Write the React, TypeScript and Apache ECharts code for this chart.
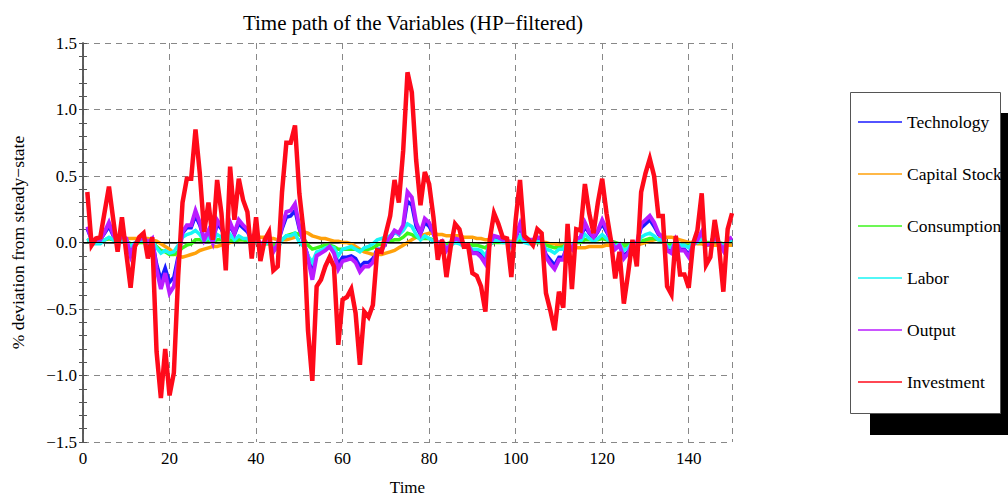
import React, { useEffect, useRef } from "react";
import * as echarts from "echarts";

const seriesNames = ["Technology", "Capital Stock", "Consumption", "Labor", "Output", "Investment"];
const seriesColors = ["#1a1aff", "#ffa10a", "#3cf51c", "#19f5f5", "#b91cff", "#ff0a1a"];
const xTicks = [0, 20, 40, 60, 80, 100, 120, 140];
const yTicks = [-1.5, -1.0, -0.5, 0.0, 0.5, 1.0, 1.5];

const technology = [
  0.10, 0.02, 0.01, 0.02, 0.07, 0.12, 0.05, 0.00, 0.04, 0.02,
  -0.08, -0.01, 0.02, 0.03, 0.00, 0.02, -0.16, -0.28, -0.19, -0.30,
  -0.26, -0.10, 0.07, 0.11, 0.11, 0.20, 0.13, 0.02, 0.08, 0.00,
  0.14, 0.10, 0.02, 0.13, 0.06, 0.14, 0.11, 0.08, 0.01, 0.03,
  -0.01, 0.00, 0.01, -0.06, -0.01, 0.10, 0.19, 0.20, 0.24, 0.10,
  0.00, -0.10, -0.23, -0.08, -0.07, -0.05, -0.03, -0.07, -0.16, -0.11,
  -0.11, -0.10, -0.12, -0.18, -0.15, -0.15, -0.12, -0.05, -0.05, 0.00,
  0.03, 0.08, 0.06, 0.11, 0.31, 0.28, 0.12, 0.06, 0.15, 0.12,
  0.06, -0.01, 0.01, -0.05, -0.01, 0.03, 0.02, -0.02, -0.02, -0.07,
  -0.07, -0.09, -0.13, -0.01, 0.04, 0.03, 0.02, 0.02, -0.02, 0.03,
  0.12, 0.03, 0.02, 0.02, 0.03, 0.02, -0.09, -0.13, -0.17, -0.11,
  -0.11, -0.01, -0.04, 0.02, 0.03, 0.12, 0.07, 0.03, 0.08, 0.14,
  0.08, 0.02, -0.04, -0.02, -0.10, -0.07, 0.00, -0.01, 0.11, 0.14,
  0.17, 0.12, 0.06, 0.03, -0.05, -0.07, 0.02, -0.05, -0.05, -0.09,
  -0.02, 0.02, 0.07, -0.02, -0.01, 0.03, 0.00, -0.05, 0.02, 0.03,
];

const capitalStock = [
  0.02, 0.02, 0.02, 0.02, 0.02, 0.03, 0.03, 0.03, 0.03, 0.03,
  0.03, 0.03, 0.03, 0.03, 0.03, 0.02, 0.01, -0.01, -0.03, -0.05,
  -0.08, -0.10, -0.11, -0.10, -0.09, -0.08, -0.06, -0.05, -0.04, -0.03,
  -0.03, -0.02, -0.01, 0.00, 0.01, 0.02, 0.02, 0.03, 0.03, 0.04,
  0.04, 0.04, 0.03, 0.03, 0.02, 0.02, 0.02, 0.03, 0.04, 0.07,
  0.08, 0.07, 0.05, 0.04, 0.03, 0.03, 0.02, 0.01, 0.01, 0.00,
  0.00, -0.01, -0.03, -0.05, -0.07, -0.08, -0.09, -0.09, -0.09, -0.08,
  -0.07, -0.06, -0.04, -0.02, 0.00, 0.02, 0.04, 0.05, 0.06, 0.07,
  0.07, 0.06, 0.06, 0.05, 0.05, 0.05, 0.05, 0.04, 0.04, 0.04,
  0.03, 0.03, 0.02, 0.02, 0.01, 0.01, 0.01, 0.01, 0.01, 0.01,
  0.01, 0.01, 0.01, 0.00, 0.00, 0.00, 0.00, -0.01, -0.01, -0.02,
  -0.02, -0.03, -0.03, -0.04, -0.04, -0.04, -0.03, -0.03, -0.03, -0.03,
  -0.02, -0.02, -0.02, -0.02, -0.03, -0.03, -0.02, -0.02, -0.01, 0.00,
  0.01, 0.02, 0.03, 0.04, 0.04, 0.04, 0.03, 0.02, 0.01, 0.00,
  0.00, -0.01, -0.01, -0.02, -0.02, -0.02, -0.02, -0.02, -0.02, -0.02,
];

const consumption = [
  0.02, 0.01, 0.01, 0.01, 0.02, 0.03, 0.02, 0.01, 0.01, 0.01,
  -0.01, -0.01, 0.00, 0.00, 0.00, 0.00, -0.03, -0.06, -0.07, -0.09,
  -0.09, -0.07, -0.04, -0.02, -0.01, 0.02, 0.02, 0.01, 0.01, 0.00,
  0.02, 0.02, 0.00, 0.02, 0.01, 0.02, 0.02, 0.01, 0.00, 0.00,
  -0.01, -0.01, -0.01, -0.02, -0.02, 0.02, 0.05, 0.06, 0.07, 0.06,
  0.03, -0.02, -0.05, -0.04, -0.03, -0.02, -0.02, -0.03, -0.05, -0.05,
  -0.05, -0.05, -0.05, -0.06, -0.05, -0.05, -0.04, -0.02, -0.01, 0.00,
  0.01, 0.02, 0.02, 0.04, 0.07, 0.06, 0.04, 0.03, 0.03, 0.03,
  0.02, 0.00, 0.00, -0.01, 0.00, 0.00, 0.00, -0.01, -0.01, -0.02,
  -0.02, -0.03, -0.04, -0.01, 0.00, 0.00, 0.00, 0.00, -0.01, 0.00,
  0.02, 0.01, 0.00, 0.00, 0.00, 0.00, -0.02, -0.03, -0.04, -0.04,
  -0.03, -0.01, -0.01, 0.00, 0.00, 0.02, 0.02, 0.02, 0.02, 0.03,
  0.02, 0.01, 0.00, -0.01, -0.02, -0.02, -0.01, -0.01, 0.01, 0.02,
  0.03, 0.03, 0.02, 0.01, -0.01, -0.02, -0.01, -0.02, -0.02, -0.02,
  -0.01, 0.00, 0.01, 0.00, 0.00, 0.01, 0.00, -0.01, 0.00, 0.01,
];

const labor = [
  0.03, -0.01, -0.01, -0.01, 0.02, 0.04, 0.02, 0.00, 0.01, 0.00,
  -0.03, 0.00, 0.01, 0.01, 0.00, 0.01, -0.04, -0.08, -0.06, -0.08,
  -0.07, -0.02, 0.04, 0.06, 0.07, 0.09, 0.06, 0.01, 0.04, 0.00,
  0.06, 0.04, -0.02, 0.06, 0.02, 0.05, 0.03, 0.03, -0.03, 0.01,
  -0.03, -0.01, 0.00, -0.06, -0.05, 0.02, 0.05, 0.05, 0.07, 0.00,
  -0.03, -0.10, -0.15, -0.07, -0.06, -0.04, -0.03, -0.04, -0.10, -0.05,
  -0.04, -0.03, -0.05, -0.07, -0.04, -0.03, -0.01, 0.02, 0.03, 0.04,
  0.05, 0.08, 0.06, 0.09, 0.14, 0.12, 0.06, 0.02, 0.05, 0.03,
  0.01, -0.02, -0.01, -0.04, -0.02, 0.00, -0.01, -0.03, -0.03, -0.05,
  -0.05, -0.06, -0.10, -0.02, 0.02, 0.01, 0.00, 0.00, -0.04, 0.01,
  0.05, 0.00, -0.01, -0.01, 0.01, 0.00, -0.05, -0.06, -0.08, -0.05,
  -0.05, 0.01, -0.03, 0.01, 0.01, 0.06, 0.03, 0.01, 0.03, 0.06,
  0.03, 0.00, -0.03, -0.01, -0.06, -0.04, 0.00, -0.02, 0.04, 0.06,
  0.07, 0.05, 0.02, 0.02, -0.03, -0.04, 0.01, -0.02, -0.02, -0.04,
  0.00, 0.00, 0.03, -0.01, -0.01, 0.02, 0.00, -0.03, 0.01, 0.02,
];

const output = [
  0.12, 0.02, 0.02, 0.02, 0.08, 0.15, 0.06, 0.00, 0.05, 0.03,
  -0.10, -0.01, 0.02, 0.04, 0.00, 0.03, -0.20, -0.35, -0.23, -0.38,
  -0.33, -0.13, 0.08, 0.13, 0.13, 0.24, 0.15, 0.02, 0.09, 0.00,
  0.17, 0.12, 0.02, 0.15, 0.07, 0.17, 0.13, 0.10, 0.02, 0.04,
  -0.01, 0.00, 0.02, -0.07, -0.01, 0.12, 0.23, 0.24, 0.29, 0.12,
  0.00, -0.12, -0.28, -0.10, -0.08, -0.06, -0.03, -0.08, -0.20, -0.14,
  -0.13, -0.12, -0.15, -0.22, -0.18, -0.18, -0.15, -0.06, -0.06, 0.00,
  0.04, 0.09, 0.07, 0.13, 0.38, 0.34, 0.15, 0.07, 0.18, 0.15,
  0.07, -0.01, 0.01, -0.06, -0.01, 0.03, 0.02, -0.02, -0.02, -0.08,
  -0.08, -0.11, -0.16, -0.01, 0.05, 0.04, 0.02, 0.02, -0.02, 0.04,
  0.14, 0.03, 0.02, 0.02, 0.04, 0.03, -0.11, -0.16, -0.20, -0.13,
  -0.13, -0.01, -0.05, 0.03, 0.04, 0.15, 0.08, 0.04, 0.09, 0.17,
  0.10, 0.02, -0.05, -0.02, -0.12, -0.08, 0.00, -0.01, 0.14, 0.17,
  0.20, 0.15, 0.07, 0.04, -0.06, -0.08, 0.02, -0.06, -0.06, -0.11,
  -0.02, 0.02, 0.08, -0.02, -0.01, 0.04, 0.00, -0.06, 0.02, 0.04,
];

const investment = [
  0.38, -0.02, 0.03, 0.04, 0.23, 0.42, 0.17, -0.07, 0.19, -0.08,
  -0.34, -0.03, 0.04, 0.07, -0.12, 0.04, -0.82, -1.17, -0.80, -1.15,
  -0.98, -0.25, 0.30, 0.48, 0.48, 0.85, 0.52, 0.08, 0.30, 0.02,
  0.47, 0.22, -0.21, 0.57, 0.17, 0.48, 0.32, 0.23, -0.12, 0.19,
  -0.14, 0.02, 0.08, -0.21, -0.18, 0.38, 0.75, 0.75, 0.88, 0.37,
  0.08, -0.66, -1.04, -0.33, -0.28, -0.18, -0.11, -0.18, -0.77, -0.43,
  -0.41, -0.35, -0.53, -0.92, -0.52, -0.56, -0.47, -0.06, -0.07, 0.07,
  0.20, 0.47, 0.30, 0.69, 1.28, 1.13, 0.62, 0.28, 0.53, 0.44,
  0.19, -0.13, 0.02, -0.26, -0.03, 0.14, 0.10, -0.03, -0.02, -0.23,
  -0.25, -0.33, -0.52, 0.02, 0.22, 0.14, 0.04, 0.03, -0.26, 0.17,
  0.47, 0.05, 0.02, -0.02, 0.10, 0.07, -0.38, -0.51, -0.66, -0.37,
  -0.49, 0.14, -0.35, 0.10, 0.09, 0.44, 0.22, 0.07, 0.30, 0.48,
  0.22, 0.02, -0.27, -0.07, -0.46, -0.23, 0.02, -0.18, 0.38, 0.52,
  0.63, 0.50, 0.20, 0.20, -0.33, -0.39, 0.05, -0.24, -0.24, -0.34,
  -0.01, 0.09, 0.37, -0.17, -0.11, 0.17, -0.03, -0.37, 0.10, 0.22,
];

const seriesValues = [technology, capitalStock, consumption, labor, output, investment];
const seriesWidths = [3.5, 3.5, 3.5, 3.5, 4, 4.5];

const FONT = "'Liberation Serif', 'DejaVu Serif', serif";
const FRAME = "#555";

function fmtY(v: number): string {
  const s = v.toFixed(1);
  return s.replace("-", "\u2212");
}

export default function App() {
  const ref = useRef<HTMLDivElement>(null);

  useEffect(() => {
    document.body.style.margin = "0";
    if (!ref.current) return;
    const chart = echarts.init(ref.current, undefined, { renderer: "svg" });

    const axisCommon = {
      axisLine: { show: true, lineStyle: { color: FRAME, width: 1.5 } },
      axisTick: { show: true, inside: true, length: 4, lineStyle: { color: FRAME, width: 1 } },
    };

    const series: any[] = seriesNames.map((name, i) => ({
      name,
      type: "line",
      data: seriesValues[i].map((v, k) => [k + 1, v]),
      showSymbol: false,
      symbol: "none",
      lineStyle: { color: seriesColors[i], width: seriesWidths[i], join: "miter" },
      itemStyle: { color: seriesColors[i] },
      z: 2 + i,
      silent: true,
    }));
    series[5].markLine = {
      silent: true,
      symbol: "none",
      label: { show: false },
      lineStyle: { color: "#000", width: 1, type: "solid" },
      data: [{ yAxis: 0 }],
      z: 20,
    };

    chart.setOption({
      animation: false,
      backgroundColor: "#ffffff",
      title: {
        text: "Time path of the Variables (HP\u2212filtered)",
        left: 408,
        textAlign: "center",
        top: 7,
        textStyle: { fontFamily: FONT, fontSize: 21, fontWeight: "normal", color: "#000" },
      },
      grid: { left: 83, right: 276, top: 43, bottom: 57, show: false, containLabel: false, outerBoundsMode: "none" },
      legend: {
        orient: "vertical",
        left: 858,
        top: 113,
        padding: 0,
        icon: "rect",
        itemWidth: 44,
        itemHeight: 1.5,
        itemGap: 34,
        data: seriesNames,
        selectedMode: false,
        textStyle: { fontFamily: FONT, fontSize: 17.5, color: "#000", lineHeight: 18 },
      },
      graphic: [
        { type: "rect", shape: { x: 870, y: 113, width: 150, height: 322 }, style: { fill: "#000" }, z: 0 },
        { type: "rect", shape: { x: 850.5, y: 92.5, width: 150, height: 321 }, style: { fill: "#fff", stroke: FRAME, lineWidth: 1 }, z: 1 },
      ],
      xAxis: [
        {
          type: "value",
          position: "bottom",
          min: 0,
          max: 150,
          interval: 20,
          name: "Time",
          nameLocation: "middle",
          nameGap: 37,
          nameTextStyle: { fontFamily: FONT, fontSize: 17, color: "#000" },
          ...axisCommon,
          minorTick: { show: true, splitNumber: 4, length: 4, lineStyle: { color: FRAME } },
          axisLabel: {
            fontFamily: FONT,
            fontSize: 17,
            color: "#000",
            margin: 8,
            showMaxLabel: false,
            formatter: (v: number) => (xTicks.includes(v) ? String(v) : ""),
          },
          splitLine: { show: true, lineStyle: { color: "#888", type: [6, 5], width: 1 } },
        },
        {
          type: "value",
          position: "top",
          min: 0,
          max: 150,
          interval: 20,
          ...axisCommon,
          minorTick: { show: true, splitNumber: 4, length: 4, lineStyle: { color: FRAME } },
          axisLabel: { show: false },
          splitLine: { show: false },
        },
      ],
      yAxis: [
        {
          type: "value",
          position: "left",
          min: -1.5,
          max: 1.5,
          interval: 0.5,
          name: "% deviation from steady\u2212state",
          nameLocation: "middle",
          nameGap: 56,
          nameTextStyle: { fontFamily: FONT, fontSize: 17.5, color: "#000" },
          ...axisCommon,
          minorTick: { show: true, splitNumber: 5, length: 4, lineStyle: { color: FRAME } },
          axisLabel: {
            fontFamily: FONT,
            fontSize: 17,
            color: "#000",
            margin: 6,
            formatter: (v: number) => (yTicks.some((t) => Math.abs(t - v) < 1e-9) ? fmtY(v) : ""),
          },
          splitLine: { show: true, lineStyle: { color: "#888", type: [6, 5], width: 1 } },
        },
        {
          type: "value",
          position: "right",
          min: -1.5,
          max: 1.5,
          interval: 0.5,
          ...axisCommon,
          minorTick: { show: true, splitNumber: 5, length: 4, lineStyle: { color: FRAME } },
          axisLabel: { show: false },
          splitLine: { show: false },
        },
      ],
      series,
    });

    return () => chart.dispose();
  }, []);

  return <div ref={ref} style={{ width: 1008, height: 499 }} />;
}
